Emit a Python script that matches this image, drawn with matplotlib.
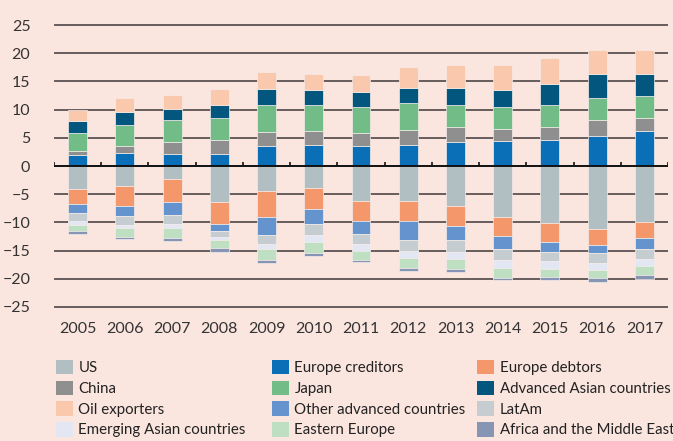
import numpy as np
import matplotlib
matplotlib.use("Agg")
import matplotlib.pyplot as plt
from matplotlib.patches import Patch

plt.rcParams["font.family"] = ["Lato", "DejaVu Sans"]

years = ["2005", "2006", "2007", "2008", "2009", "2010", "2011",
         "2012", "2013", "2014", "2015", "2016", "2017"]

# surplus side (stacked upward from 0)
europe_creditors = [1.9, 2.4, 2.2, 2.2, 3.5, 3.7, 3.5, 3.8, 4.2, 4.4, 4.7, 5.4, 6.3]
china = [0.8, 1.2, 2.1, 2.4, 2.5, 2.5, 2.4, 2.6, 2.7, 2.1, 2.3, 2.7, 2.2]
japan = [3.2, 3.6, 3.8, 3.9, 4.9, 4.7, 4.6, 4.8, 4.0, 3.9, 3.8, 4.0, 3.9]
adv_asian = [2.0, 2.3, 2.0, 2.3, 2.8, 2.5, 2.6, 2.6, 2.9, 3.1, 3.8, 4.2, 4.0]
oil_exporters = [2.0, 2.5, 2.5, 2.9, 2.9, 2.9, 3.1, 3.7, 4.2, 4.5, 4.5, 4.2, 4.1]

# deficit side (stacked downward from 0)
us = [-4.0, -3.6, -2.3, -6.4, -4.4, -3.9, -6.2, -6.2, -7.1, -9.0, -10.1, -11.2, -9.9]
europe_debtors = [-2.8, -3.4, -4.1, -3.8, -4.7, -3.8, -3.5, -3.5, -3.6, -3.4, -3.4, -2.8, -2.9]
other_adv = [-1.5, -1.8, -2.3, -1.3, -3.1, -2.5, -2.4, -3.4, -2.5, -2.4, -1.8, -1.5, -1.9]
latam = [-1.4, -1.6, -1.6, -1.0, -1.7, -2.1, -1.8, -2.0, -2.0, -1.8, -1.5, -1.7, -1.8]
emerging_asian = [-0.7, -0.6, -0.7, -0.7, -0.8, -1.1, -1.1, -1.2, -1.3, -1.5, -1.4, -1.3, -1.3]
eastern_europe = [-1.1, -1.5, -1.8, -1.4, -1.9, -2.0, -1.6, -1.8, -1.8, -1.7, -1.5, -1.4, -1.5]
africa_me = [-0.5, -0.5, -0.5, -0.6, -0.6, -0.5, -0.5, -0.5, -0.5, -0.5, -0.6, -0.7, -0.8]

yticks = [25, 20, 15, 10, 5, 0, -5, -10, -15, -20, -25]

bg = "#fbe6df"
colors = {
    "US": "#b1bfc3",
    "Europe creditors": "#0b6fb8",
    "Europe debtors": "#f4976b",
    "China": "#8f8f8f",
    "Japan": "#72bd87",
    "Advanced Asian countries": "#03577f",
    "Oil exporters": "#fac8ac",
    "Other advanced countries": "#6593ce",
    "LatAm": "#c6cdd0",
    "Emerging Asian countries": "#e2e7f3",
    "Eastern Europe": "#bedfc2",
    "Africa and the Middle East": "#8795b5",
}

pos_series = [
    ("Europe creditors", europe_creditors),
    ("China", china),
    ("Japan", japan),
    ("Advanced Asian countries", adv_asian),
    ("Oil exporters", oil_exporters),
]
neg_series = [
    ("US", us),
    ("Europe debtors", europe_debtors),
    ("Other advanced countries", other_adv),
    ("LatAm", latam),
    ("Emerging Asian countries", emerging_asian),
    ("Eastern Europe", eastern_europe),
    ("Africa and the Middle East", africa_me),
]

fig = plt.figure(figsize=(6.73, 4.41), dpi=100, facecolor=bg)
ax = fig.add_axes([0.0802, 0.2975, 0.9124, 0.652])
ax.set_facecolor(bg)

x = np.arange(len(years))
w = 0.40

bottom = np.zeros(len(years))
for name, vals in pos_series:
    v = np.array(vals)
    ax.bar(x, v, w, bottom=bottom, color=colors[name], edgecolor="#f3ece9",
           linewidth=0.5, zorder=3)
    bottom += v

bottom = np.zeros(len(years))
for name, vals in neg_series:
    v = np.array(vals)
    ax.bar(x, v, w, bottom=bottom, color=colors[name], edgecolor="#f3ece9",
           linewidth=0.5, zorder=3)
    bottom += v

# gridlines
for t in yticks:
    if t != 0:
        ax.axhline(t, color="#3f3838", lw=1.1, zorder=1)
ax.axhline(0, color="#111111", lw=1.4, zorder=4)
# small tick marks on the zero line between the years
ax.vlines(np.arange(len(years) + 1) - 0.5, 0, 0.7, color="#111111", lw=1.2, zorder=4)

ax.set_xlim(-0.5, len(years) - 0.5)
ax.set_ylim(-25.5, 25.5)
ax.set_yticks(yticks)
ax.set_xticks(x)
ax.set_xticklabels(years)
ax.tick_params(axis="both", length=0, labelsize=11.5, colors="#333333")
ax.tick_params(axis="y", pad=17)
ax.tick_params(axis="x", pad=9)
for s in ax.spines.values():
    s.set_visible(False)

legend_cols = [
    (["US", "China", "Oil exporters", "Emerging Asian countries"], 56),
    (["Europe creditors", "Japan", "Other advanced countries", "Eastern Europe"], 272),
    (["Europe debtors", "Advanced Asian countries", "LatAm", "Africa and the Middle East"], 477),
]
for names, px in legend_cols:
    handles = [Patch(facecolor=colors[n], edgecolor="none") for n in names]
    fig.legend(handles, names, loc="upper left",
               bbox_to_anchor=(px / 673, 1 - 360 / 441),
               frameon=False, fontsize=10.8, handlelength=1.1, handleheight=1.1,
               handletextpad=0.4, labelspacing=0.36, borderpad=0, borderaxespad=0,
               labelcolor="#222222")

fig.savefig("out.png", dpi=100, facecolor=bg)
